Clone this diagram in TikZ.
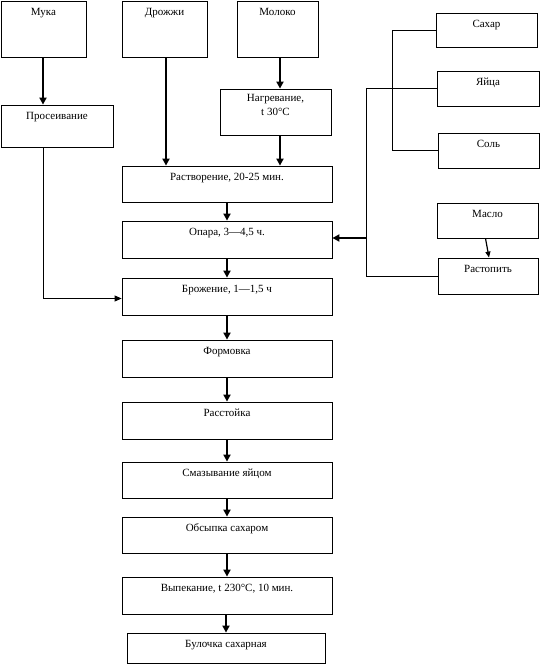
\documentclass[tikz,border=0pt]{standalone}
\usepackage{fontspec}
\setmainfont{Liberation Serif}
\usetikzlibrary{arrows.meta}
\tikzset{
  box/.style={draw=black, line width=0.8pt, rectangle, inner sep=0pt},
  lblbase/.style={anchor=north, inner sep=0pt, align=center,
              font=\fontsize{11}{14}\selectfont},
  lbl/.style={lblbase, text height=7.5pt},
  arr/.style={line width=2pt, -{Triangle[length=7pt,width=7pt]}},
  thin/.style={line width=0.8pt},
  thinarr/.style={line width=1.2pt, -{Triangle[length=6pt,width=5pt]}}
}
\newcommand{\bx}[7][lbl]{%
  \pgfmathsetmacro\bw{#5-#3}\pgfmathsetmacro\bh{#6-#4}%
  \node[box, minimum width=\bw pt, minimum height=\bh pt] (#2) at ({(#3+#5)/2},{(#4+#6)/2}) {};
  \node[#1] (#2-t) at ([yshift=-7.5pt]#2.north) {#7};}
\begin{document}
\begin{tikzpicture}[x=1pt,y=-1pt]
\useasboundingbox (0,0) rectangle (541,664);
% top inputs
\bx{muka}{1}{1}{86}{57}{Мука}
\bx{drozh}{122}{1}{207}{57}{Дрожжи}
\bx{moloko}{237}{1}{318}{57}{Молоко}
\bx{pros}{1}{105}{113}{147}{Просеивание}
\bx[lblbase,yshift=2pt]{nagr}{220}{89}{331}{135}{Нагревание,\\ t 30°С}
% main chain
\bx{rastv}{122}{166}{332}{202}{Растворение, 20-25 мин.}
\bx{opara}{122}{221}{332}{258}{Опара, 3—4,5 ч.}
\bx{brozh}{122}{278}{332}{315}{Брожение, 1—1,5 ч}
\bx{form}{122}{340}{332}{377}{Формовка}
\bx{rasst}{122}{402}{332}{439}{Расстойка}
\bx{smaz}{122}{462}{332}{498}{Смазывание яйцом}
\bx{obs}{122}{517}{332}{553}{Обсыпка сахаром}
\bx{vyp}{122}{577}{332}{614}{Выпекание, t 230°С, 10 мин.}
\bx{bul}{127}{633}{325}{663}{Булочка сахарная}
% right side
\bx{sahar}{436}{13}{537}{47}{Сахар}
\bx{yaica}{437}{71}{539}{106}{Яйца}
\bx{sol}{438}{133}{539}{168}{Соль}
\bx{maslo}{437}{203}{538}{238}{Масло}
\bx{rtop}{438}{258}{538}{294}{Растопить}
\coordinate (br1) at (392,0);
\coordinate (br2) at (366,0);
\coordinate (pl) at (43,0);
% connectors
\draw[arr] (pl |- muka.south) -- (pl |- pros.north);
\draw[arr] ([xshift=1.5pt]drozh.south) -- ([xshift=1.5pt]drozh.south |- rastv.north);
\draw[arr] ([xshift=2.5pt]moloko.south) -- ([xshift=2.5pt]moloko.south |- nagr.north);
\draw[arr] ([xshift=2.5pt]moloko.south |- nagr.south) -- ([xshift=2.5pt]moloko.south |- rastv.north);
\draw[thin, -{Triangle[length=7pt,width=6pt]}] (pl |- pros.south) |- ([yshift=-2pt]brozh.west);
\draw[arr] (rastv.south) -- (opara.north);
\draw[arr] (opara.south) -- (brozh.north);
\draw[arr] (brozh.south) -- (form.north);
\draw[arr] (form.south) -- (rasst.north);
\draw[arr] (rasst.south) -- (smaz.north);
\draw[arr] (smaz.south) -- (obs.north);
\draw[arr] (obs.south) -- (vyp.north);
\draw[arr] (bul.north |- vyp.south) -- (bul.north);
\draw[thin] (sahar.west) -- (sahar.west -| br1) |- (sol.west);
\draw[thin] (yaica.west) -- (yaica.west -| br2) |- (rtop.west);
\draw[arr] ([yshift=1.5pt]br2 |- opara.east) -- ([yshift=1.5pt]opara.east);
\draw[thinarr] ([xshift=-2pt]maslo.south) -- ([xshift=1pt]rtop.north);
\end{tikzpicture}
\end{document}
